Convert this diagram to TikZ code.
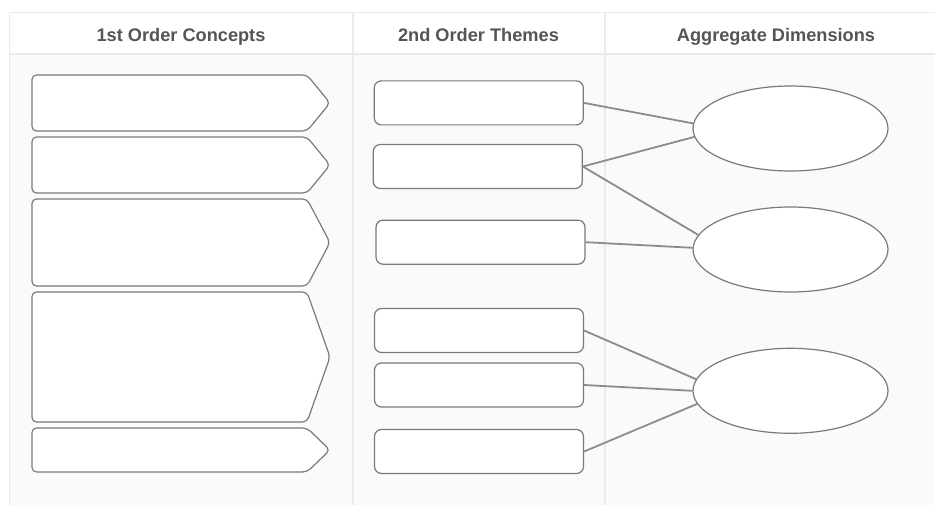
\documentclass[tikz,border=0pt]{standalone}
\usepackage{fontspec}
\setmainfont{Liberation Sans}
\usetikzlibrary{shapes.geometric}
\definecolor{gridline}{HTML}{EBEBEB}
\definecolor{bodybg}{HTML}{FAFAFA}
\definecolor{boxline}{HTML}{7A7A7A}
\definecolor{linkline}{HTML}{8C8C8C}
\definecolor{headtext}{HTML}{555555}
\begin{document}
\begin{tikzpicture}[x=1pt,y=-1pt,
  theme/.style={draw=boxline, line width=1.2pt, fill=white, rounded corners=7pt,
    minimum width=209pt, minimum height=44pt, inner sep=0pt},
  dim/.style={draw=boxline, line width=1.2pt, fill=white, ellipse,
    minimum width=195pt, minimum height=85pt, inner sep=0pt},
  link/.style={draw=linkline, line width=1.8pt},
  concept/.style={draw=boxline, line width=1.2pt, fill=white, rounded corners=4.5pt, line join=round},
  head/.style={font=\fontsize{18.2}{21}\selectfont\bfseries, text=headtext, anchor=base, inner sep=0pt},
  grid/.style={draw=gridline, line width=1.5pt}
]
\useasboundingbox (0,0) rectangle (935,505);
\fill[white] (0,0) rectangle (935,505);

% table body and rules
\fill[bodybg] (9.5,54) rectangle (935,505);
\draw[grid] (9.5,505) -- (9.5,12.5) -- (935,12.5);
\draw[grid] (9.5,54) -- (935,54);
\draw[grid] (353,12.5) -- (353,505);
\draw[grid] (605,12.5) -- (605,505);

% column headings
\node[head] (h1) at (181,41.7) {1st Order Concepts};
\node[head] (h2) at (478.5,41.7) {2nd Order Themes};
\node[head] (h3) at (776,41.7) {Aggregate Dimensions};

% first-order concept tags (top / bottom edges)
\foreach \t/\b in {75/131, 137/193, 199/286, 292/422, 428/472}{
  \draw[concept] (32,\t) -- (307,\t) -- (330,{(\t+\b)/2}) -- (307,\b) -- (32,\b) -- cycle;
}

% second-order themes
\node[theme] (tA) at (478.8,102.9) {};
\node[theme] (tB) at (477.8,166.5) {};
\node[theme] (tC) at (480.5,242.2) {};
\node[theme] (tD) at (479,330.5) {};
\node[theme] (tE) at (479,385) {};
\node[theme] (tF) at (479,451.5) {};

% aggregate dimensions
\node[dim] (d1) at (790.5,128.5) {};
\node[dim] (d2) at (790.5,249.5) {};
\node[dim] (d3) at (790.5,390.8) {};

% links from themes to dimensions
\draw[link] (tA.east) -- (d1.177);
\draw[link] (tB.east) -- (d1.185);
\draw[link] (tB.east) -- (d2.171);
\draw[link] (tC.east) -- (d2.179);
\draw[link] (tD.east) -- (d3.173);
\draw[link] (tE.east) -- (d3.180);
\draw[link] (tF.east) -- (d3.188);
\end{tikzpicture}
\end{document}
